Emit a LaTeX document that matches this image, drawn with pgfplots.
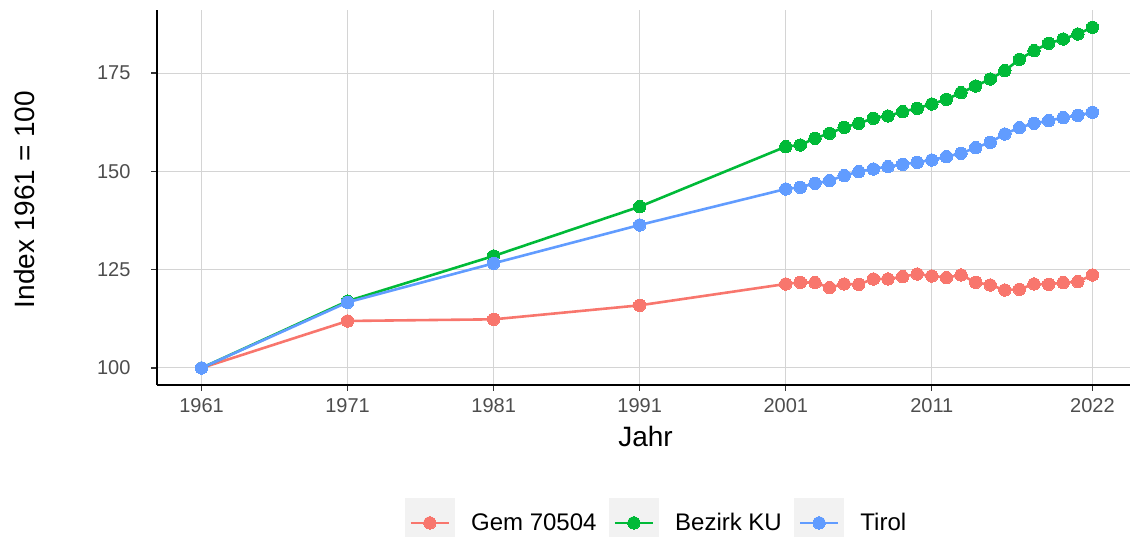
\documentclass[border=0pt]{standalone}
\usepackage{pgfplots}
\pgfplotsset{compat=1.18}
\usepackage{fontspec}
\setmainfont{Liberation Sans}
\definecolor{cGem}{HTML}{F8766D}
\definecolor{cBez}{HTML}{00BA38}
\definecolor{cTir}{HTML}{619CFF}
\definecolor{cGrid}{HTML}{D4D4D4}
\definecolor{cTick}{HTML}{4D4D4D}
\definecolor{cKey}{HTML}{F2F2F2}
\begin{document}
\begin{tikzpicture}
\useasboundingbox (0,0) rectangle (1130pt,537pt);
\begin{axis}[
  at={(157pt,152pt)}, anchor=south west,
  scale only axis, width=980pt, height=374.7pt,
  xmin=1957.95, xmax=2025.05, ymin=95.67, ymax=190.95,
  axis x line*=bottom, axis y line*=left,
  axis line style={-, black, line width=1.1pt},
  tick align=outside, major tick length=6pt,
  tick style={color=black!80, line width=1.1pt},
  xtick={1961,1971,1981,1991,2001,2011,2022},
  xticklabels={1961,1971,1981,1991,2001,2011,2022},
  ytick={100,125,150,175},
  yticklabels={100,125,150,175},
  grid=major, grid style={cGrid, line width=1pt},
  ticklabel style={font=\fontsize{20}{24}\selectfont, text=cTick},
  xticklabel style={yshift=-4pt},
  yticklabel style={xshift=-17pt},
  every axis x label/.style={at={(axis description cs:0.4985,-0.1647)}, anchor=base},
  every axis y label/.style={at={(axis description cs:-0.1245,0.4951)}, anchor=base, rotate=90},
  label style={font=\fontsize{28}{32}\selectfont},
  xlabel={Jahr}, ylabel={Index 1961 = 100},
  legend columns=3,
  legend cell align=left,
  legend image code/.code={
    \fill[cKey] (-23.5pt,-23.5pt) rectangle (23.5pt,23.5pt);
    \draw[mark repeat=2,mark phase=2,#1] plot coordinates {(-19pt,0pt) (0pt,0pt) (19pt,0pt)};
  },
  legend style={at={(axis description cs:0.2531,-0.368)}, anchor=west,
    draw=none, fill=none, inner sep=0pt, outer sep=0pt,
    font=\fontsize{24}{28}\selectfont,
    nodes={inner sep=0pt},
    /tikz/every odd column/.style={column sep=16.5pt},
    /tikz/every even column/.style={column sep=12.5pt}},
  every axis plot/.append style={line width=2.6pt, mark=*, mark size=6.2pt},
  clip=false,
]
\addplot[cGem, mark options={fill=cGem, draw=cGem, line width=0pt}] coordinates {
(1961,100) (1971,111.95) (1981,112.37) (1991,115.93)
(2001,121.36) (2002,121.78) (2003,121.70) (2004,120.43) (2005,121.36) (2006,121.27)
(2007,122.63) (2008,122.63) (2009,123.22) (2010,123.90) (2011,123.39) (2012,122.97)
(2013,123.65) (2014,121.78) (2015,121.10) (2016,119.83) (2017,120.00) (2018,121.36)
(2019,121.27) (2020,121.70) (2021,121.95) (2022,123.65)};
\addlegendentry{Gem 70504}
\addplot[cBez, mark options={fill=cBez, draw=cBez, line width=0pt}] coordinates {
(1961,100) (1971,117.0) (1981,128.48) (1991,141.02)
(2001,156.28) (2002,156.70) (2003,158.40) (2004,159.67) (2005,161.19) (2006,162.21)
(2007,163.48) (2008,164.07) (2009,165.17) (2010,166.02) (2011,167.12) (2012,168.31)
(2013,170.00) (2014,171.70) (2015,173.48) (2016,175.60) (2017,178.48) (2018,180.68)
(2019,182.55) (2020,183.65) (2021,184.92) (2022,186.62)};
\addlegendentry{Bezirk KU}
\addplot[cTir, mark options={fill=cTir, draw=cTir, line width=0pt}] coordinates {
(1961,100) (1971,116.7) (1981,126.61) (1991,136.36)
(2001,145.51) (2002,145.93) (2003,146.95) (2004,147.63) (2005,148.90) (2006,149.92)
(2007,150.60) (2008,151.19) (2009,151.78) (2010,152.29) (2011,152.89) (2012,153.73)
(2013,154.58) (2014,156.02) (2015,157.38) (2016,159.50) (2017,161.11) (2018,162.21)
(2019,162.89) (2020,163.65) (2021,164.24) (2022,165.01)};
\addlegendentry{Tirol}
\end{axis}
\end{tikzpicture}
\end{document}
